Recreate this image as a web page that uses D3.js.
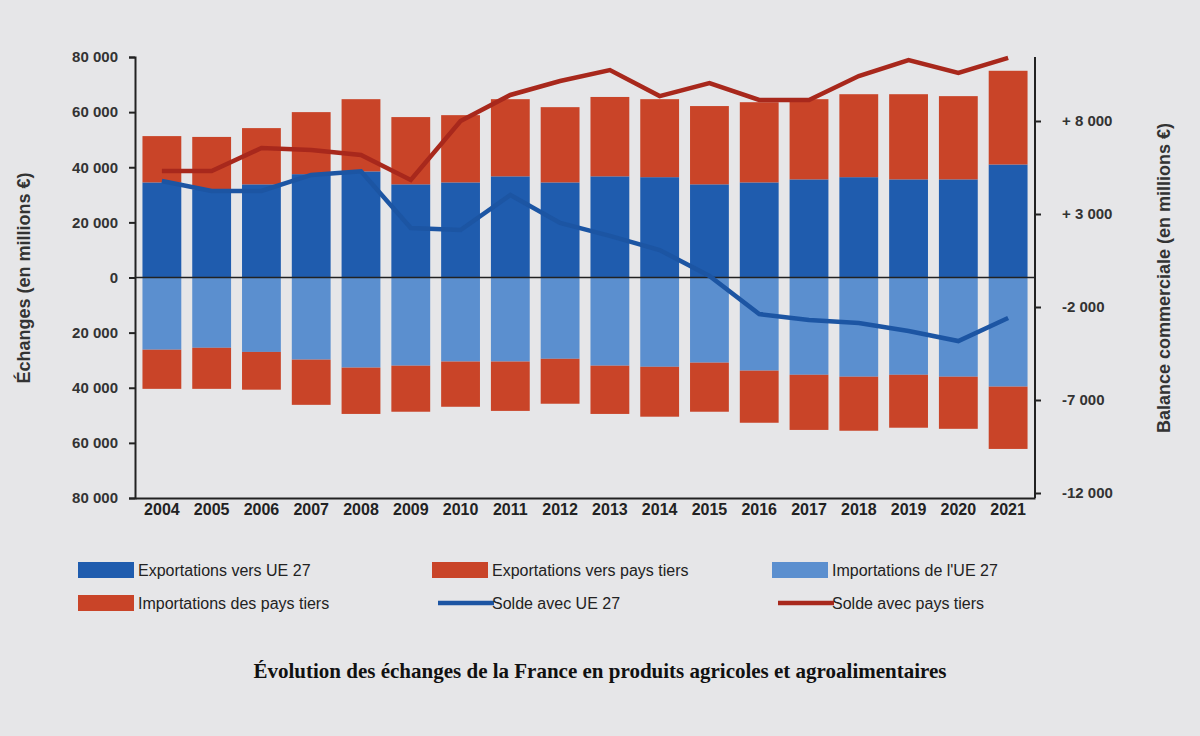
<!DOCTYPE html>
<html><head><meta charset="utf-8">
<script src="https://cdn.jsdelivr.net/npm/d3@7"></script>
<style>
body{margin:0;background:#e6e6e8;}
svg{font-family:"Liberation Sans",Arial,sans-serif;}
</style></head>
<body><svg id="chart" width="1200" height="736"></svg>
<script>
var years = [2004,2005,2006,2007,2008,2009,2010,2011,2012,2013,2014,2015,2016,2017,2018,2019,2020,2021];
var exportsUE = [34500,32000,33800,37500,38500,33800,34500,36700,34500,36700,36400,33800,34500,35600,36400,35600,35600,41000];
var exportsTiers = [16800,19000,20400,22500,26200,24400,24400,28000,27300,28800,28300,28400,29100,29100,30100,30900,30200,34000];
var importsUE = [26200,25500,27000,29800,32700,32000,30500,30500,29500,32000,32400,30900,33800,35300,36000,35300,36000,39600];
var importsTiers = [14200,14900,13700,16400,16800,16700,16400,17900,16300,17500,18100,17800,18900,20000,19600,19200,18900,22600];
var soldeUE = [4770,4240,4240,5100,5300,2250,2140,4020,2520,1820,1060,-330,-2380,-2700,-2860,-3290,-3830,-2590];
var soldeTiers = [5310,5310,6550,6440,6170,4830,8000,9400,10150,10740,9340,10040,9130,9130,10420,11280,10580,11390];
var leftTicks = [80000,60000,40000,20000,0,-20000,-40000,-60000,-80000];
var rightTicks = [8000,3000,-2000,-7000,-12000];

var svg = d3.select("#chart");
var fmt = function(v){ return d3.format(",")(Math.abs(v)).replace(/,/g," "); };
var fmtR = function(v){ return (v>0?"+ ":"-") + (Math.abs(v)>=1000 ? fmt(v) : Math.abs(v)); };

var x = d3.scaleBand().domain(years).range([135,1035]).paddingInner(0.22).paddingOuter(0.15);
var y = d3.scaleLinear().domain([-80000,80000]).range([498,57]);
var yr = d3.scaleLinear().domain([-12000,8000]).range([493,121]);

var C = {eu:"#1f5cae", tiers:"#c94428", imp:"#5b8fcf", lUE:"#1c55a3", lT:"#a8281c"};

// bars
years.forEach(function(yr_,i){
  var bx = x(yr_), bw = x.bandwidth();
  svg.append("rect").attr("x",bx).attr("width",bw).attr("y",y(exportsUE[i])).attr("height",y(0)-y(exportsUE[i])).attr("fill",C.eu);
  svg.append("rect").attr("x",bx).attr("width",bw).attr("y",y(exportsUE[i]+exportsTiers[i])).attr("height",y(0)-y(exportsTiers[i])).attr("fill",C.tiers);
  svg.append("rect").attr("x",bx).attr("width",bw).attr("y",y(0)).attr("height",y(-importsUE[i])-y(0)).attr("fill",C.imp);
  svg.append("rect").attr("x",bx).attr("width",bw).attr("y",y(-importsUE[i])).attr("height",y(-importsTiers[i])-y(0)).attr("fill",C.tiers);
});

// axes
var la = svg.append("g").attr("transform","translate(135,0)")
  .call(d3.axisLeft(y).tickValues(leftTicks).tickFormat(fmt).tickSize(6));
la.selectAll("text").attr("font-size",15).attr("font-weight","bold").attr("fill","#333").attr("dx",-8);
la.selectAll("path,line").attr("stroke","#222").attr("stroke-width",2);
svg.append("line").attr("x1",135).attr("x2",1035).attr("y1",y(0)).attr("y2",y(0)).attr("stroke","#222").attr("stroke-width",1.5);
var ra = svg.append("g").attr("transform","translate(1035,0)")
  .call(d3.axisRight(yr).tickValues(rightTicks).tickFormat(fmtR).tickSize(6));
ra.select("path").remove();
svg.append("line").attr("x1",1035).attr("x2",1035).attr("y1",57).attr("y2",498).attr("stroke","#222").attr("stroke-width",2);
ra.selectAll("text").attr("font-size",15).attr("font-weight","bold").attr("fill","#333").attr("dx",18);
ra.selectAll("line").attr("stroke","#222").attr("stroke-width",2);
var ba = svg.append("g").attr("transform","translate(0,498)")
  .call(d3.axisBottom(x).tickSize(0));
ba.select("path").attr("stroke","#222").attr("stroke-width",2);
ba.selectAll("text").attr("font-size",16).attr("font-weight","bold").attr("fill","#222").attr("dy",14);

svg.append("text").attr("transform","translate(30,278) rotate(-90)").attr("text-anchor","middle")
  .attr("font-size",18).attr("font-weight","bold").attr("fill","#333").text("Échanges (en millions €)");
svg.append("text").attr("transform","translate(1170,278) rotate(-90)").attr("text-anchor","middle")
  .attr("font-size",18).attr("font-weight","bold").attr("fill","#333").text("Balance commerciale (en millions €)");

// lines
var line = d3.line().x(function(d,i){return x(years[i])+x.bandwidth()/2;}).y(function(d){return yr(d);});
svg.append("path").datum(soldeTiers).attr("d",line).attr("fill","none").attr("stroke",C.lT).attr("stroke-width",4.5);
svg.append("path").datum(soldeUE).attr("d",line).attr("fill","none").attr("stroke",C.lUE).attr("stroke-width",4.5);

// legend
var legend = [
  {t:"Exportations vers UE 27", c:C.eu, x:78, y:570, k:"r"},
  {t:"Exportations vers pays tiers", c:C.tiers, x:432, y:570, k:"r"},
  {t:"Importations de l'UE 27", c:C.imp, x:772, y:570, k:"r"},
  {t:"Importations des pays tiers", c:C.tiers, x:78, y:603, k:"r"},
  {t:"Solde avec UE 27", c:C.lUE, x:432, y:603, k:"l"},
  {t:"Solde avec pays tiers", c:C.lT, x:772, y:603, k:"l"}
];
legend.forEach(function(l){
  if(l.k==="r") svg.append("rect").attr("x",l.x).attr("y",l.y-8).attr("width",56).attr("height",16).attr("fill",l.c);
  else svg.append("line").attr("x1",l.x+6).attr("x2",l.x+62).attr("y1",l.y).attr("y2",l.y).attr("stroke",l.c).attr("stroke-width",4.5);
  svg.append("text").attr("x",l.x+60).attr("y",l.y+6).attr("font-size",16).attr("fill","#222").text(l.t);
});

svg.append("text").attr("x",600).attr("y",678).attr("text-anchor","middle")
  .attr("font-family","Liberation Serif, Times New Roman, serif").attr("font-weight","bold").attr("font-size",21).attr("fill","#111")
  .text("Évolution des échanges de la France en produits agricoles et agroalimentaires");
</script></body></html>
